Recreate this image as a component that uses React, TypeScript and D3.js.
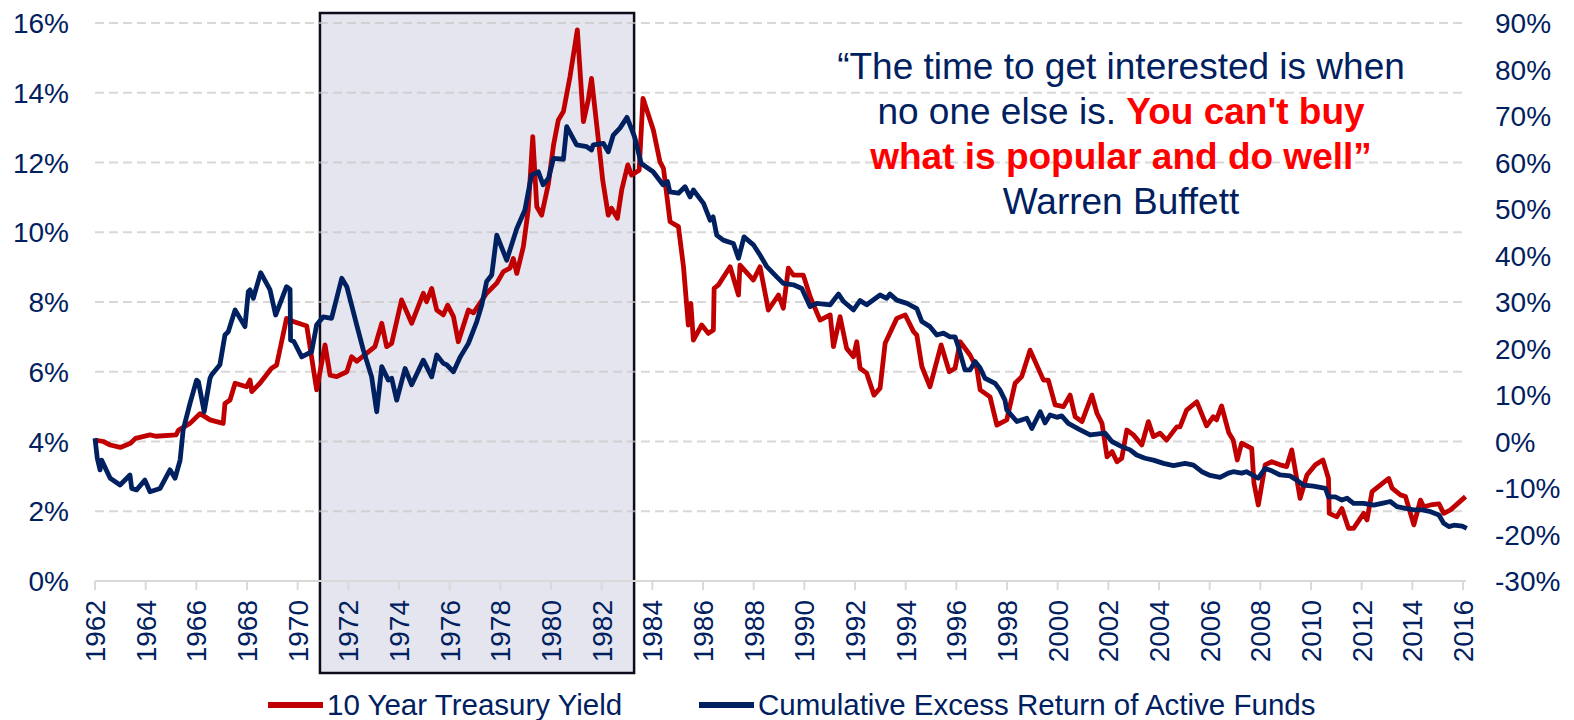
import React, { useRef, useEffect } from "react";
import * as d3 from "d3";

// 10 year treasury yield, % (left axis) — [year, value]
const treasuryYield: [number, number][] = [
  [1962.0, 4.04], [1962.33, 4.0], [1962.6, 3.9], [1963.0, 3.83], [1963.4, 3.95], [1963.6, 4.09],
  [1964.17, 4.19], [1964.4, 4.15], [1965.2, 4.19], [1965.3, 4.33], [1965.75, 4.52], [1966.15, 4.8],
  [1966.54, 4.62], [1967.06, 4.52], [1967.13, 5.09], [1967.33, 5.19], [1967.53, 5.67], [1967.98, 5.57],
  [1968.12, 5.76], [1968.19, 5.43], [1968.51, 5.67], [1968.97, 6.1], [1969.17, 6.19], [1969.56, 7.53],
  [1969.83, 7.44], [1970.36, 7.31], [1970.75, 5.48], [1971.08, 6.77], [1971.28, 5.9], [1971.54, 5.86],
  [1971.94, 6.0], [1972.13, 6.43], [1972.33, 6.3], [1973.05, 6.72], [1973.32, 7.39], [1973.51, 6.72],
  [1973.71, 6.81], [1974.1, 8.06], [1974.5, 7.39], [1974.96, 8.25], [1975.09, 8.01], [1975.29, 8.39],
  [1975.49, 7.77], [1975.75, 7.63], [1975.92, 7.91], [1976.15, 7.58], [1976.34, 6.86], [1976.74, 7.77],
  [1976.94, 7.69], [1977.46, 8.25], [1977.86, 8.54], [1978.12, 8.87], [1978.38, 8.97], [1978.51, 9.25],
  [1978.65, 8.82], [1978.91, 9.59], [1979.1, 10.64], [1979.28, 12.74], [1979.44, 10.73], [1979.63, 10.49],
  [1979.9, 11.4], [1980.1, 12.5], [1980.29, 13.22], [1980.49, 13.46], [1980.75, 14.46], [1981.04, 15.8],
  [1981.28, 13.17], [1981.47, 13.79], [1981.6, 14.41], [1981.87, 12.65], [1982.04, 11.5], [1982.26, 10.49],
  [1982.39, 10.69], [1982.62, 10.4], [1982.79, 11.21], [1983.03, 11.93], [1983.18, 11.64], [1983.48, 11.78],
  [1983.63, 13.84], [1984.04, 12.93], [1984.3, 12.02], [1984.44, 11.83], [1984.7, 10.3], [1985.03, 10.16],
  [1985.23, 9.01], [1985.42, 7.34], [1985.52, 7.96], [1985.62, 6.91], [1985.95, 7.34], [1986.21, 7.1],
  [1986.41, 7.2], [1986.44, 8.39], [1986.61, 8.49], [1987.07, 9.01], [1987.4, 8.2], [1987.46, 9.06],
  [1987.99, 8.63], [1988.25, 9.01], [1988.58, 7.77], [1988.98, 8.2], [1989.17, 7.82], [1989.37, 8.97],
  [1989.57, 8.77], [1989.96, 8.77], [1990.23, 8.15], [1990.62, 7.48], [1991.02, 7.63], [1991.15, 6.72],
  [1991.41, 7.58], [1991.67, 6.67], [1991.94, 6.43], [1992.07, 6.86], [1992.2, 6.1], [1992.46, 5.96],
  [1992.75, 5.33], [1992.99, 5.53], [1993.19, 6.82], [1993.65, 7.53], [1993.98, 7.63], [1994.31, 7.15],
  [1994.44, 7.05], [1994.64, 6.15], [1994.96, 5.57], [1995.4, 6.77], [1995.72, 6.0], [1995.95, 6.1],
  [1996.15, 6.86], [1996.54, 6.48], [1996.81, 6.1], [1996.94, 5.48], [1997.33, 5.28], [1997.6, 4.47],
  [1997.99, 4.62], [1998.32, 5.67], [1998.58, 5.86], [1998.91, 6.62], [1999.44, 5.76], [1999.63, 5.76],
  [1999.9, 5.05], [2000.23, 5.0], [2000.49, 5.33], [2000.69, 4.71], [2000.96, 4.57], [2001.35, 5.33],
  [2001.55, 4.81], [2001.75, 4.52], [2001.95, 3.56], [2002.15, 3.71], [2002.34, 3.42], [2002.53, 3.52],
  [2002.73, 4.33], [2002.99, 4.19], [2003.32, 3.9], [2003.58, 4.57], [2003.78, 4.14], [2004.04, 4.24],
  [2004.3, 4.04], [2004.7, 4.42], [2004.83, 4.42], [2005.09, 4.9], [2005.49, 5.14], [2005.88, 4.45],
  [2006.14, 4.71], [2006.27, 4.62], [2006.47, 5.02], [2006.75, 4.26], [2006.93, 4.04], [2007.09, 3.47],
  [2007.26, 3.95], [2007.66, 3.8], [2007.75, 2.8], [2007.92, 2.18], [2008.19, 3.33], [2008.45, 3.42],
  [2008.78, 3.33], [2009.04, 3.28], [2009.24, 3.76], [2009.57, 2.37], [2009.84, 3.04], [2010.17, 3.33],
  [2010.47, 3.47], [2010.69, 2.94], [2010.72, 1.94], [2011.02, 1.84], [2011.22, 2.08], [2011.48, 1.51],
  [2011.68, 1.51], [2012.08, 1.94], [2012.21, 1.75], [2012.41, 2.56], [2013.07, 2.94], [2013.2, 2.66],
  [2013.53, 2.47], [2013.73, 2.42], [2014.06, 1.61], [2014.32, 2.32], [2014.45, 2.13], [2014.72, 2.18],
  [2015.05, 2.21], [2015.24, 1.94], [2015.51, 2.04], [2016.1, 2.42],
];

// cumulative excess return of active funds, % (right axis) — [year, value]
const activeExcess: [number, number][] = [
  [1962.0, 0.7], [1962.09, -3.6], [1962.2, -6.1], [1962.26, -4.0], [1962.6, -7.9], [1962.99, -9.35],
  [1963.38, -7.2], [1963.45, -10.1], [1963.64, -10.4], [1963.97, -8.3], [1964.17, -10.8], [1964.57, -10.1],
  [1964.96, -6.1], [1965.16, -7.9], [1965.36, -4.0], [1965.48, 2.5], [1965.75, 8.2], [1966.01, 13.2],
  [1966.08, 12.9], [1966.31, 6.4], [1966.54, 13.6], [1966.6, 14.3], [1966.93, 16.5], [1967.13, 22.9],
  [1967.26, 23.6], [1967.53, 28.3], [1967.92, 24.7], [1968.05, 32.2], [1968.12, 32.6], [1968.25, 30.8],
  [1968.54, 36.3], [1968.91, 32.6], [1969.13, 27.2], [1969.56, 33.3], [1969.7, 32.7], [1969.72, 21.8],
  [1969.85, 21.5], [1970.16, 18.2], [1970.55, 19.3], [1970.75, 25.1], [1971.01, 26.8], [1971.34, 26.5],
  [1971.74, 35.1], [1971.94, 33.3], [1972.33, 25.1], [1972.59, 19.7], [1972.92, 13.9], [1973.12, 6.4],
  [1973.32, 16.1], [1973.58, 13.2], [1973.71, 13.6], [1973.91, 8.9], [1974.24, 15.7], [1974.5, 12.2],
  [1974.96, 17.5], [1975.29, 13.9], [1975.49, 18.6], [1975.75, 16.8], [1975.88, 16.5], [1976.15, 15.0],
  [1976.42, 18.2], [1976.74, 21.1], [1977.07, 25.8], [1977.27, 29.4], [1977.46, 34.4], [1977.66, 35.8],
  [1977.86, 44.4], [1978.25, 39.0], [1978.65, 45.8], [1978.97, 49.8], [1979.23, 57.3], [1979.5, 58.0],
  [1979.69, 55.2], [1979.9, 56.6], [1980.1, 60.9], [1980.49, 60.7], [1980.62, 67.7], [1981.01, 63.8],
  [1981.41, 63.4], [1981.6, 62.7], [1981.67, 63.8], [1982.07, 64.1], [1982.26, 62.3], [1982.46, 65.9],
  [1982.72, 67.4], [1983.0, 69.7], [1983.3, 65.5], [1983.56, 59.8], [1984.03, 58.0], [1984.42, 55.2],
  [1984.6, 55.9], [1984.69, 53.7], [1985.03, 53.4], [1985.29, 54.8], [1985.49, 52.6], [1985.62, 54.1],
  [1986.02, 51.2], [1986.28, 47.6], [1986.4, 48.3], [1986.54, 44.4], [1986.8, 43.3], [1987.2, 42.6],
  [1987.4, 39.4], [1987.62, 44.0], [1987.99, 42.3], [1988.25, 40.1], [1988.52, 37.6], [1988.91, 35.4],
  [1989.17, 34.0], [1989.57, 33.7], [1989.9, 32.9], [1990.23, 29.0], [1990.49, 29.7], [1991.02, 29.4],
  [1991.35, 31.7], [1991.55, 30.1], [1991.94, 28.3], [1992.2, 30.3], [1992.46, 29.4], [1992.99, 31.5],
  [1993.25, 30.8], [1993.38, 31.7], [1993.65, 30.4], [1994.05, 29.7], [1994.44, 28.6], [1994.64, 25.8],
  [1994.96, 24.7], [1995.23, 22.9], [1995.49, 23.3], [1995.75, 22.5], [1995.95, 22.5], [1996.08, 20.4],
  [1996.34, 15.4], [1996.54, 15.4], [1996.74, 17.2], [1996.94, 15.8], [1997.13, 13.6], [1997.53, 12.5],
  [1997.72, 11.1], [1997.92, 8.9], [1997.99, 6.8], [1998.39, 4.3], [1998.78, 5.0], [1998.98, 2.8],
  [1999.31, 6.4], [1999.5, 4.0], [1999.7, 5.7], [1999.97, 5.2], [2000.16, 5.5], [2000.42, 3.9],
  [2000.89, 2.5], [2001.28, 1.4], [2001.87, 1.8], [2002.14, 0.0], [2002.53, -1.1], [2002.86, -1.8],
  [2003.12, -2.9], [2003.45, -3.6], [2003.78, -4.0], [2004.18, -4.7], [2004.57, -5.2], [2005.03, -4.7],
  [2005.36, -5.1], [2005.69, -6.5], [2006.02, -7.3], [2006.41, -7.7], [2006.74, -6.8], [2006.93, -6.5],
  [2007.26, -6.8], [2007.45, -6.5], [2007.92, -7.9], [2008.19, -5.8], [2008.45, -6.3], [2008.78, -7.2],
  [2009.17, -7.4], [2009.44, -8.3], [2009.71, -9.4], [2010.1, -9.6], [2010.57, -10.1], [2010.69, -11.9],
  [2010.96, -11.9], [2011.22, -12.6], [2011.42, -12.2], [2011.68, -13.3], [2012.08, -13.3], [2012.47, -13.7],
  [2012.8, -13.3], [2013.13, -12.9], [2013.39, -14.0], [2013.73, -14.4], [2014.06, -14.7], [2014.39, -14.7],
  [2014.72, -15.1], [2015.05, -15.8], [2015.24, -17.6], [2015.44, -18.3], [2015.64, -18.0], [2015.97, -18.2],
  [2016.15, -18.7],
];

const yearTicks = d3.range(1962, 2017, 2);
const leftTicks = [0, 2, 4, 6, 8, 10, 12, 14, 16];
const rightTicks = [-30, -20, -10, 0, 10, 20, 30, 40, 50, 60, 70, 80, 90];
const shadedYears = [1970.88, 1983.28];
const seriesNames = ["10 Year Treasury Yield", "Cumulative Excess Return of Active Funds"];

const NAVY = "#002060";
const RED = "#C00000";
const FONT = "'Liberation Sans', Arial, sans-serif";

const App = () => {
  const svgRef = useRef<SVGSVGElement>(null);

  var width = 1574;
  var height = 720;
  var margin = { top: 23, right: 111, bottom: 139, left: 95 };

  useEffect(() => {
    var svg = d3.select(svgRef.current);
    svg.selectAll("*").remove();

    var x = d3.scaleLinear().domain([1962, 2016]).range([margin.left, width - margin.right]);
    var yLeft = d3.scaleLinear().domain([0, 16]).range([height - margin.bottom, margin.top]);
    var yRight = d3.scaleLinear().domain([-30, 90]).range([height - margin.bottom, margin.top]);
    var bottom = height - margin.bottom;
    var plotRight = x(2016) + 3;

    // shaded period 1971-1983
    svg
      .append("rect")
      .attr("x", x(shadedYears[0]))
      .attr("y", margin.top - 10)
      .attr("width", x(shadedYears[1]) - x(shadedYears[0]))
      .attr("height", bottom - margin.top + 102)
      .attr("fill", "#e4e5ee")
      .attr("stroke", "#0c0c1c")
      .attr("stroke-width", 2.5);

    // dashed gridlines
    svg
      .selectAll(".grid")
      .data(leftTicks.filter((d) => d > 0))
      .enter()
      .append("line")
      .attr("x1", margin.left)
      .attr("x2", plotRight)
      .attr("y1", (d) => yLeft(d))
      .attr("y2", (d) => yLeft(d))
      .attr("stroke", "#c8c8c8")
      .attr("stroke-opacity", 0.7)
      .attr("stroke-width", 2)
      .attr("stroke-dasharray", "9,5");

    // x axis
    svg
      .append("line")
      .attr("x1", margin.left)
      .attr("x2", plotRight)
      .attr("y1", bottom)
      .attr("y2", bottom)
      .attr("stroke", "#d9d9d9")
      .attr("stroke-width", 2);

    svg
      .selectAll(".xtick")
      .data(yearTicks)
      .enter()
      .append("line")
      .attr("x1", (d) => x(d))
      .attr("x2", (d) => x(d))
      .attr("y1", bottom)
      .attr("y2", bottom + 9)
      .attr("stroke", "#d9d9d9")
      .attr("stroke-width", 2);

    svg
      .selectAll(".xlabel")
      .data(yearTicks)
      .enter()
      .append("text")
      .attr("transform", (d) => "translate(" + x(d) + "," + (bottom + 19) + ") rotate(-90)")
      .attr("dy", "0.36em")
      .attr("text-anchor", "end")
      .attr("font-family", FONT)
      .attr("font-size", 28)
      .attr("fill", NAVY)
      .text((d) => d);

    // left axis labels
    svg
      .selectAll(".ylabel")
      .data(leftTicks)
      .enter()
      .append("text")
      .attr("x", 69)
      .attr("y", (d) => yLeft(d))
      .attr("dy", "0.36em")
      .attr("text-anchor", "end")
      .attr("font-family", FONT)
      .attr("font-size", 28)
      .attr("fill", NAVY)
      .text((d) => d + "%");

    // right axis labels
    svg
      .selectAll(".rlabel")
      .data(rightTicks)
      .enter()
      .append("text")
      .attr("x", 1495)
      .attr("y", (d) => yRight(d))
      .attr("dy", "0.36em")
      .attr("text-anchor", "start")
      .attr("font-family", FONT)
      .attr("font-size", 28)
      .attr("fill", NAVY)
      .text((d) => d + "%");

    // series lines
    var lineLeft = d3
      .line<[number, number]>()
      .x((d) => x(d[0]))
      .y((d) => yLeft(d[1]));
    var lineRight = d3
      .line<[number, number]>()
      .x((d) => x(d[0]))
      .y((d) => yRight(d[1]));

    svg
      .append("path")
      .datum(treasuryYield)
      .attr("d", lineLeft)
      .attr("fill", "none")
      .attr("stroke", RED)
      .attr("stroke-width", 4.8)
      .attr("stroke-linejoin", "round");

    svg
      .append("path")
      .datum(activeExcess)
      .attr("d", lineRight)
      .attr("fill", "none")
      .attr("stroke", NAVY)
      .attr("stroke-width", 4.8)
      .attr("stroke-linejoin", "round");

    // legend
    var legendY = 705;
    var legend = [
      { name: seriesNames[0], color: RED, x0: 268 },
      { name: seriesNames[1], color: NAVY, x0: 699 },
    ];
    legend.forEach((l) => {
      svg
        .append("line")
        .attr("x1", l.x0)
        .attr("x2", l.x0 + 55)
        .attr("y1", legendY)
        .attr("y2", legendY)
        .attr("stroke", l.color)
        .attr("stroke-width", 6);
      svg
        .append("text")
        .attr("x", l.x0 + 59)
        .attr("y", legendY)
        .attr("dy", "0.34em")
        .attr("font-family", FONT)
        .attr("font-size", 29.5)
        .attr("fill", NAVY)
        .text(l.name);
    });

    // quote
    var quote = svg
      .append("g")
      .attr("font-family", FONT)
      .attr("font-size", 37)
      .attr("text-anchor", "middle")
      .attr("fill", NAVY);
    var cx = 1121;
    quote.append("text").attr("x", cx).attr("y", 79).text("\u201CThe time to get interested is when");
    var l2 = quote.append("text").attr("x", cx).attr("y", 124);
    l2.append("tspan").text("no one else is. ");
    l2.append("tspan").attr("font-weight", "bold").attr("fill", "#FF0000").text("You can't buy");
    quote
      .append("text")
      .attr("x", cx)
      .attr("y", 169)
      .attr("font-weight", "bold")
      .attr("fill", "#FF0000")
      .text("what is popular and do well\u201D");
    quote.append("text").attr("x", cx).attr("y", 214).text("Warren Buffett");
  }, []);

  return (
    <svg
      ref={svgRef}
      width={width}
      height={height}
      style={{ position: "absolute", left: 0, top: 0, background: "#fff" }}
    ></svg>
  );
};

export default App;
